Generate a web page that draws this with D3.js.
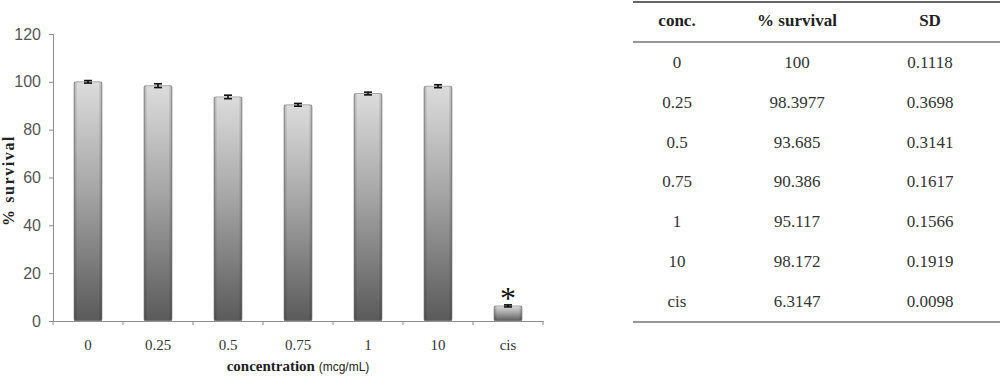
<!DOCTYPE html>
<html>
<head>
<meta charset="utf-8">
<script src="https://cdn.jsdelivr.net/npm/d3@7"></script>
<style>
  body { margin: 0; background: #fff; }
  svg { display: block; }
</style>
</head>
<body>
<svg id="chart" width="1000" height="376"></svg>
<script>
// data
const concs = ['0', '0.25', '0.5', '0.75', '1', '10', 'cis'];
const survival = [100, 98.3977, 93.685, 90.386, 95.117, 98.172, 6.3147];
const sdValues = [0.1118, 0.3698, 0.3141, 0.1617, 0.1566, 0.1919, 0.0098];
const survivalText = ['100', '98.3977', '93.685', '90.386', '95.117', '98.172', '6.3147'];
const sdText = ['0.1118', '0.3698', '0.3141', '0.1617', '0.1566', '0.1919', '0.0098'];
const yTicks = [0, 20, 40, 60, 80, 100, 120];
const tableHeads = ['conc.', '% survival', 'SD'];
const starred = ['cis'];

const svg = d3.select('#chart');
const plotLeft = 53, plotRight = 543, plotTop = 34, plotBottom = 321;

const defs = svg.append('defs');
const grad = defs.append('linearGradient')
  .attr('id', 'barGrad').attr('x1', 0).attr('y1', 0).attr('x2', 0).attr('y2', 1);
grad.append('stop').attr('offset', '0%').attr('stop-color', '#dcdcdc');
grad.append('stop').attr('offset', '45%').attr('stop-color', '#a6a6a6');
grad.append('stop').attr('offset', '100%').attr('stop-color', '#5a5a5a');
const edge = defs.append('linearGradient')
  .attr('id', 'edgeGrad').attr('x1', 0).attr('y1', 0).attr('x2', 1).attr('y2', 0);
edge.append('stop').attr('offset', '0%').attr('stop-color', '#000').attr('stop-opacity', 0.25);
edge.append('stop').attr('offset', '12%').attr('stop-color', '#000').attr('stop-opacity', 0);
edge.append('stop').attr('offset', '88%').attr('stop-color', '#000').attr('stop-opacity', 0);
edge.append('stop').attr('offset', '100%').attr('stop-color', '#000').attr('stop-opacity', 0.25);

const x = d3.scaleBand().domain(concs).range([plotLeft, plotRight]).paddingInner(0.6).paddingOuter(0.3);
const xTickScale = d3.scaleBand().domain(concs).range([plotLeft, plotRight]);
const y = d3.scaleLinear().domain([0, 120]).range([plotBottom, plotTop]);

// y axis
const yAxis = svg.append('g')
  .attr('transform', `translate(${plotLeft},0)`)
  .call(d3.axisLeft(y).tickValues(yTicks).tickSize(4).tickPadding(8));
yAxis.select('.domain').attr('stroke', '#8c8c8c');
yAxis.selectAll('.tick line').attr('stroke', '#8c8c8c');
yAxis.selectAll('.tick text')
  .attr('fill', '#555')
  .style('font-family', '"Liberation Sans Narrow", "Arial Narrow", "Liberation Sans", sans-serif')
  .style('font-size', '16px');

// x axis
const xAxis = svg.append('g')
  .attr('transform', `translate(0,${plotBottom})`)
  .call(d3.axisBottom(xTickScale).tickSize(0).tickPadding(18));
xAxis.select('.domain').attr('stroke', '#8c8c8c');
xAxis.selectAll('.tick text')
  .attr('fill', '#333')
  .style('font-family', '"Liberation Serif", "Times New Roman", serif')
  .style('font-size', '15px');
xAxis.selectAll('.sep')
  .data(concs.concat(['_end']))
  .enter().append('line')
  .attr('class', 'sep')
  .attr('x1', (d, i) => plotLeft + i * xTickScale.step())
  .attr('x2', (d, i) => plotLeft + i * xTickScale.step())
  .attr('y1', 0).attr('y2', 4)
  .attr('stroke', '#8c8c8c');

// bars
const bars = svg.append('g');
bars.selectAll('.bar')
  .data(concs).enter()
  .append('rect')
  .attr('class', 'bar')
  .attr('x', d => x(d))
  .attr('y', (d, i) => y(survival[i]))
  .attr('width', x.bandwidth())
  .attr('height', (d, i) => y(0) - y(survival[i]))
  .attr('rx', 2)
  .attr('fill', 'url(#barGrad)')
  .attr('stroke', '#9a9a9a')
  .attr('stroke-width', 0.8);
bars.selectAll('.edge')
  .data(concs).enter()
  .append('rect')
  .attr('class', 'edge')
  .attr('x', d => x(d))
  .attr('y', (d, i) => y(survival[i]))
  .attr('width', x.bandwidth())
  .attr('height', (d, i) => y(0) - y(survival[i]))
  .attr('fill', 'url(#edgeGrad)');

// error bars
const err = svg.append('g').attr('stroke', '#111').attr('stroke-width', 1.6);
concs.forEach((c, i) => {
  const cx = x(c) + x.bandwidth() / 2;
  const hi = y(survival[i] + sdValues[i]) - 1, lo = y(survival[i] - sdValues[i]) + 1;
  err.append('line').attr('x1', cx).attr('x2', cx).attr('y1', hi).attr('y2', lo);
  err.append('line').attr('x1', cx - 4).attr('x2', cx + 4).attr('y1', hi).attr('y2', hi);
  err.append('line').attr('x1', cx - 4).attr('x2', cx + 4).attr('y1', lo).attr('y2', lo);
});

// significance star
svg.selectAll('.star')
  .data(starred).enter()
  .append('text')
  .attr('class', 'star')
  .attr('x', d => x(d) + x.bandwidth() / 2)
  .attr('y', d => y(survival[concs.indexOf(d)]) + 3)
  .attr('text-anchor', 'middle')
  .style('font-family', '"Liberation Serif", serif')
  .style('font-size', '32px')
  .attr('fill', '#111')
  .text('*');

// axis titles
svg.append('text')
  .attr('transform', `translate(14,${(plotTop + plotBottom) / 2 + 3}) rotate(-90)`)
  .attr('text-anchor', 'middle')
  .style('font-family', '"Liberation Serif", "Times New Roman", serif')
  .style('font-weight', 'bold')
  .style('font-size', '16px')
  .style('letter-spacing', '1.6px')
  .attr('fill', '#222')
  .text('% survival');

const xt = svg.append('text')
  .attr('x', 298).attr('y', 371)
  .attr('text-anchor', 'middle')
  .attr('fill', '#222');
xt.append('tspan')
  .style('font-family', '"Liberation Serif", "Times New Roman", serif')
  .style('font-weight', 'bold')
  .style('font-size', '15px')
  .text('concentration ');
xt.append('tspan')
  .style('font-family', '"Liberation Sans", Arial, sans-serif')
  .style('font-size', '12px')
  .text('(mcg/mL)');

// table
const tLeft = 633, tRight = 1000;
const colX = [677, 797, 930];
const headY = 26, rowY0 = 68, rowStep = 39.8;
const table = svg.append('g')
  .style('font-family', '"Liberation Serif", "Times New Roman", serif')
  .style('font-size', '17px')
  .attr('fill', '#333');
table.append('line').attr('x1', tLeft).attr('x2', tRight).attr('y1', 2).attr('y2', 2)
  .attr('stroke', '#333').attr('stroke-width', 1.6);
table.append('line').attr('x1', tLeft).attr('x2', tRight).attr('y1', 42).attr('y2', 42)
  .attr('stroke', '#333').attr('stroke-width', 1.2);
table.append('line').attr('x1', tLeft).attr('x2', tRight).attr('y1', 322).attr('y2', 322)
  .attr('stroke', '#333').attr('stroke-width', 1.2);
table.selectAll('.head')
  .data(tableHeads).enter()
  .append('text')
  .attr('class', 'head')
  .attr('x', (d, i) => colX[i]).attr('y', headY)
  .attr('text-anchor', 'middle')
  .style('font-weight', 'bold')
  .attr('fill', '#222')
  .text(d => d);
const cols = [concs, survivalText, sdText];
cols.forEach((col, ci) => {
  table.selectAll('.c' + ci)
    .data(col).enter()
    .append('text')
    .attr('class', 'c' + ci)
    .attr('x', colX[ci])
    .attr('y', (d, i) => rowY0 + i * rowStep)
    .attr('text-anchor', 'middle')
    .text(d => d);
});
</script>
</body>
</html>
